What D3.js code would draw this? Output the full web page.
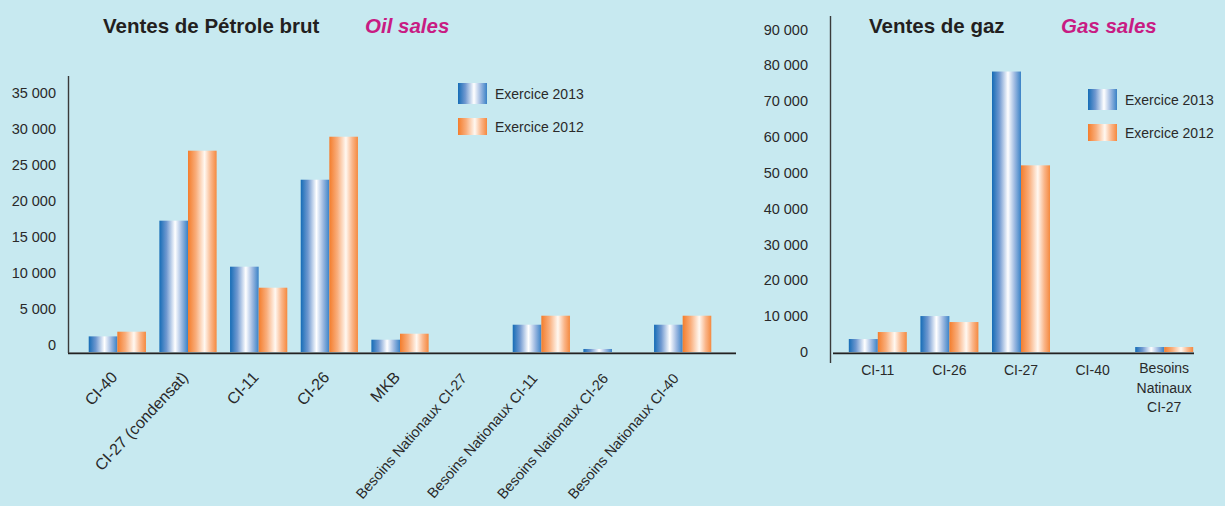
<!DOCTYPE html>
<html><head><meta charset="utf-8">
<script src="https://cdn.jsdelivr.net/npm/d3@7"></script>
<style>
html,body{margin:0;padding:0;background:#c7e9f0;}
svg{display:block;font-family:"Liberation Sans",Arial,sans-serif;}
</style></head>
<body>
<svg id="chart" width="1225" height="506"></svg>
<script>
// ---------- DATA ----------
const oilCategories = ["CI-40","CI-27 (condensat)","CI-11","CI-26","MKB","Besoins Nationaux CI-27","Besoins Nationaux CI-11","Besoins Nationaux CI-26","Besoins Nationaux CI-40"];
const oil2013 = [2170,18240,11850,23930,1710,0,3790,420,3790];
const oil2012 = [2820,27960,8930,29900,2540,0,5040,0,5040];
const oilTicks = [0,5000,10000,15000,20000,25000,30000,35000];

const gasCategories = ["CI-11","CI-26","CI-27","CI-40","Besoins Natinaux CI-27"];
const gas2013 = [3620,10030,78270,0,1390];
const gas2012 = [5570,8360,52090,0,1390];
const gasTicks = [0,10000,20000,30000,40000,50000,60000,70000,80000,90000];

const seriesNames = ["Exercice 2013","Exercice 2012"];

// ---------- SETUP ----------
const svg = d3.select("#chart");
const fmt = d3.formatLocale({decimal:",",thousands:"\u00a0",grouping:[3],currency:["","€"]}).format(",d");
const textCol = "#2a2a2a";
const axisCol = "#3a3a3a";

const defs = svg.append("defs");
function grad(id, stops){
  const g = defs.append("linearGradient").attr("id",id).attr("x1","0").attr("x2","1").attr("y1","0").attr("y2","0");
  stops.forEach(s=>g.append("stop").attr("offset",s[0]).attr("stop-color",s[1]));
}
grad("gBlue",[[0,"#156cb6"],[0.25,"#6f98d0"],[0.55,"#ffffff"],[0.78,"#9db9e1"],[1,"#3a82c6"]]);
grad("gOrange",[[0,"#f47d2c"],[0.28,"#f9ae7c"],[0.58,"#fff8f1"],[0.8,"#fab68a"],[1,"#f5893f"]]);
const fills = ["url(#gBlue)","url(#gOrange)"];

function drawChart(opt){
  const g = svg.append("g");
  const x = d3.scaleBand().domain(opt.categories).range(opt.xRange).paddingInner(0.19).paddingOuter(0.095);
  const x1 = d3.scaleBand().domain([0,1]).range([0,x.bandwidth()]);
  const y = d3.scaleLinear().domain([0,opt.max]).range([opt.y0,opt.yTop]);

  const series = [opt.s2013, opt.s2012];
  series.forEach((vals,si)=>{
    g.selectAll(null).data(vals.map((v,i)=>({v,c:opt.categories[i]}))).join("rect")
      .filter(d=>d.v>0)
      .attr("x",d=>x(d.c)+x1(si))
      .attr("width",x1.bandwidth())
      .attr("y",d=>y(d.v))
      .attr("height",d=>y(0)-y(d.v))
      .attr("fill",fills[si]);
  });

  g.append("line").attr("x1",opt.baseX[0]).attr("x2",opt.baseX[1]).attr("y1",opt.y0+0.5).attr("y2",opt.y0+0.5)
    .attr("stroke","#8a9a9e").attr("stroke-width",1);
  g.append("line").attr("x1",opt.baseX[0]).attr("x2",opt.baseX[1]).attr("y1",opt.y0+1.5).attr("y2",opt.y0+1.5)
    .attr("stroke","#222").attr("stroke-width",1.6);

  g.append("line").attr("x1",opt.axisX).attr("x2",opt.axisX).attr("y1",opt.axisY[0]).attr("y2",opt.axisY[1])
    .attr("stroke",axisCol).attr("stroke-width",1.4);

  g.selectAll(null).data(opt.ticks).join("text")
    .attr("x",opt.tickX).attr("y",d=>y(d)+opt.tickDy)
    .attr("text-anchor","end").attr("dominant-baseline","central")
    .attr("font-size",14.5).attr("fill",textCol)
    .text(d=>fmt(d));

  return {g,x,y};
}

// ---------- OIL ----------
const oil = drawChart({categories:oilCategories,s2013:oil2013,s2012:oil2012,max:35000,ticks:oilTicks,
  xRange:[82,718], y0:352, yTop:100, baseX:[68,736], axisX:68.5, axisY:[76,353], tickX:56, tickDy:-7});

oil.g.selectAll(null).data(oilCategories).join("text")
  .attr("transform",d=>{
    const cx = oil.x(d)+oil.x.bandwidth()/2;
    return d.startsWith("Besoins") ? `translate(${cx-3},379) rotate(-49)` : `translate(${cx+1},378) rotate(-47)`;
  })
  .attr("text-anchor","end").attr("font-size",d=>d.startsWith("Besoins")?14.5:16).attr("fill",textCol)
  .text(d=>d);

// ---------- GAS ----------
const gas = drawChart({categories:gasCategories,s2013:gas2013,s2012:gas2012,max:90000,ticks:gasTicks,
  xRange:[842,1200], y0:352, yTop:29.5, baseX:[833,1194], axisX:830.5, axisY:[16,363], tickX:808, tickDy:0});

gas.g.selectAll(null).data(gasCategories).join("text")
  .attr("x",d=>gas.x(d)+gas.x.bandwidth()/2)
  .attr("text-anchor","middle").attr("font-size",14).attr("fill",textCol)
  .each(function(d){
    const parts = d.split(" ");
    const t = d3.select(this);
    parts.forEach((p,i)=>t.append("tspan").attr("x",gas.x(d)+gas.x.bandwidth()/2).attr("y",(parts.length>1?373:375)+i*19.5).text(p));
  });

// ---------- TITLES ----------
function title(x,y,txt,italic){
  svg.append("text").attr("x",x).attr("y",y).attr("font-size",20.5).attr("font-weight","bold")
    .attr("font-style",italic?"italic":"normal").attr("fill",italic?"#c81b83":"#231f20").text(txt);
}
title(103,33,"Ventes de Pétrole brut",false);
title(365,33,"Oil sales",true);
title(869,33,"Ventes de gaz",false);
title(1061,33,"Gas sales",true);

// ---------- LEGENDS ----------
function legend(x,yBlue,yOrange){
  const items=[{y:yBlue,h:21},{y:yOrange,h:17}];
  items.forEach((it,i)=>{
    svg.append("rect").attr("x",x).attr("y",it.y).attr("width",29).attr("height",it.h).attr("fill",fills[i]);
    svg.append("text").attr("x",x+37).attr("y",it.y+it.h/2).attr("dominant-baseline","central")
      .attr("font-size",14).attr("fill",textCol).text(seriesNames[i]);
  });
}
legend(458,83,118);
legend(1088,89,124);
</script>
</body></html>
